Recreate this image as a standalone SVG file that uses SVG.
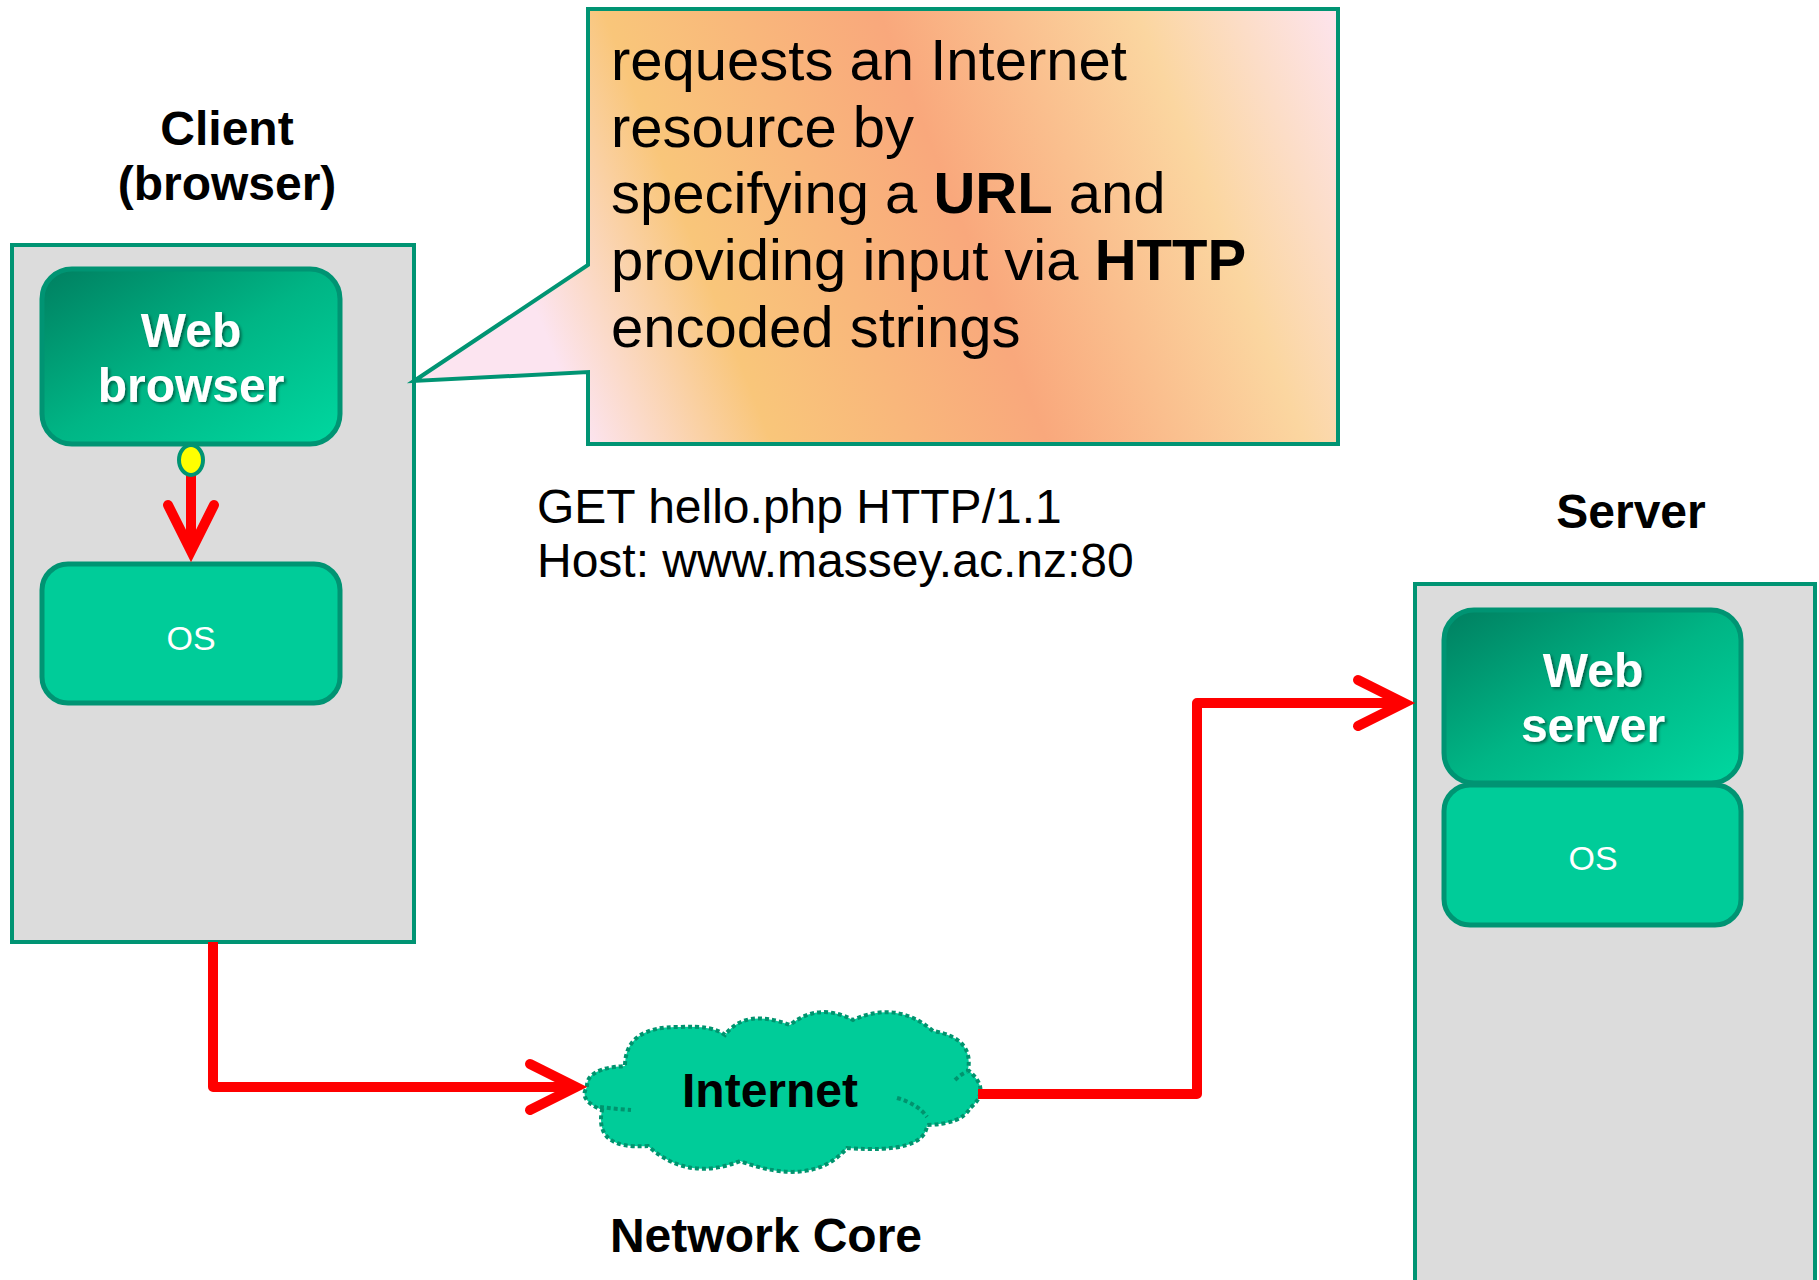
<svg xmlns="http://www.w3.org/2000/svg" width="1819" height="1280" viewBox="0 0 1819 1280">
<defs>
<style>
.container{fill:#DCDCDC;stroke:#009473;stroke-width:4}
.grad{fill:url(#gBox);stroke:#009473;stroke-width:5}
.os{fill:#00CC99;stroke:#009473;stroke-width:5}
.lbl{font-family:"Liberation Sans",Arial,sans-serif;font-weight:bold;font-size:48px;fill:#000;text-anchor:middle}
.wt{font-family:"Liberation Sans",Arial,sans-serif;font-weight:bold;font-size:48px;fill:#fff;text-anchor:middle}
.ost{font-family:"Liberation Sans",Arial,sans-serif;font-size:34px;fill:#fff;text-anchor:middle}
.body{font-family:"Liberation Sans",Arial,sans-serif;font-size:58px;fill:#000}
.req{font-family:"Liberation Sans",Arial,sans-serif;font-size:48px;fill:#000}
.conn{fill:none;stroke:#FF0000;stroke-width:10;stroke-linejoin:round}
</style>
<linearGradient id="gBox" x1="0" y1="0" x2="1" y2="1">
<stop offset="0" stop-color="#007F60"/>
<stop offset="0.5" stop-color="#00B585"/>
<stop offset="1" stop-color="#00D8A0"/>
</linearGradient>
<linearGradient id="gCall" gradientUnits="userSpaceOnUse" x1="564" y1="382" x2="1362" y2="71">
<stop offset="0" stop-color="#FCE4F0"/>
<stop offset="0.2" stop-color="#F9C67A"/>
<stop offset="0.5" stop-color="#F9A87C"/>
<stop offset="0.78" stop-color="#FBD6A0"/>
<stop offset="1" stop-color="#FDE4EE"/>
</linearGradient>
<filter id="shadow" x="-10%" y="-10%" width="130%" height="140%">
<feDropShadow dx="2" dy="2" stdDeviation="1.5" flood-color="#000" flood-opacity="0.45"/>
</filter>
<marker id="arr" markerUnits="userSpaceOnUse" orient="auto" refX="0" refY="0" markerWidth="80" markerHeight="80" viewBox="-60 -40 80 80" overflow="visible">
<path d="M-45,-23 L1,0 L-45,23" fill="none" stroke="#FF0000" stroke-width="10" stroke-linecap="round" stroke-linejoin="miter"/>
</marker>
</defs>
<rect width="1819" height="1280" fill="#fff"/>

<g id="client">
<text class="lbl" x="227" y="145">Client</text>
<text class="lbl" x="227" y="200">(browser)</text>
<rect class="container" x="12" y="245" width="402" height="697"/>
</g>

<g id="web-browser">
<rect class="grad" x="42" y="269" width="298" height="175" rx="30" ry="30"/>
<g filter="url(#shadow)">
<text class="wt" x="191" y="347">Web</text>
<text class="wt" x="191" y="402">browser</text>
</g>
</g>

<g id="client-os">
<rect class="os" x="42" y="564" width="298" height="139" rx="26" ry="26"/>
<text class="ost" x="191" y="650">OS</text>
</g>

<g id="server">
<text class="lbl" x="1631" y="528">Server</text>
<rect class="container" x="1415" y="584" width="400" height="730"/>
</g>

<g id="web-server">
<rect class="grad" x="1444" y="610" width="297" height="173" rx="30" ry="30"/>
<g filter="url(#shadow)">
<text class="wt" x="1593" y="687">Web</text>
<text class="wt" x="1593" y="742">server</text>
</g>
</g>

<g id="server-os">
<rect class="os" x="1444" y="785" width="297" height="140" rx="26" ry="26"/>
<text class="ost" x="1593" y="870">OS</text>
</g>

<g id="callout">
<path d="M588,9 H1338 V444 H588 V372 L414,381 L588,265 Z" fill="url(#gCall)" stroke="#009473" stroke-width="4"/>
<text class="body" x="611" y="80">requests an Internet</text>
<text class="body" x="611" y="147">resource by</text>
<text class="body" x="611" y="213">specifying a <tspan font-weight="bold">URL</tspan> and</text>
<text class="body" x="611" y="280">providing input via <tspan font-weight="bold">HTTP</tspan></text>
<text class="body" x="611" y="347">encoded strings</text>
</g>

<g id="http-request">
<text class="req" x="537" y="523">GET hello.php HTTP/1.1</text>
<text class="req" x="537" y="577">Host: www.massey.ac.nz:80</text>
</g>

<g id="internet">
<path d="M587,1087 Q586,1068 625,1066 Q625,1026 680,1027 Q712,1025 725,1035 Q745,1008 790,1025 Q818,1002 853,1020 Q897,1000 933,1031 Q974,1038 968,1070 Q992,1090 970,1108 Q962,1124 927,1125 Q925,1154 847,1148 Q812,1188 740,1161 Q688,1182 648,1146 Q594,1150 602,1110 Q578,1100 587,1087 Z" fill="#00CC99" stroke="#00936E" stroke-width="4" stroke-dasharray="4 3"/>
<path d="M600,1107 Q615,1109 631,1110" fill="none" stroke="#00936E" stroke-width="4" stroke-dasharray="4 3"/>
<path d="M897,1098 Q918,1104 927,1117" fill="none" stroke="#00936E" stroke-width="4" stroke-dasharray="4 3"/>
<path d="M955,1080 Q961,1074 967,1072" fill="none" stroke="#00936E" stroke-width="4" stroke-dasharray="4 3"/>
<text class="lbl" x="770" y="1107">Internet</text>
</g>

<g id="network-core">
<text class="lbl" x="766" y="1252">Network Core</text>
</g>

<g id="connectors">
<path class="conn" d="M191,474 L191,550" marker-end="url(#arr)"/>
<path class="conn" d="M213,942 L213,1087 L575,1087" marker-end="url(#arr)"/>
<path class="conn" d="M978,1094 L1197,1094 L1197,703 L1403,703" marker-end="url(#arr)"/>
<ellipse cx="191" cy="460" rx="12" ry="15" fill="#FFFF00" stroke="#009473" stroke-width="4"/>
</g>
</svg>
